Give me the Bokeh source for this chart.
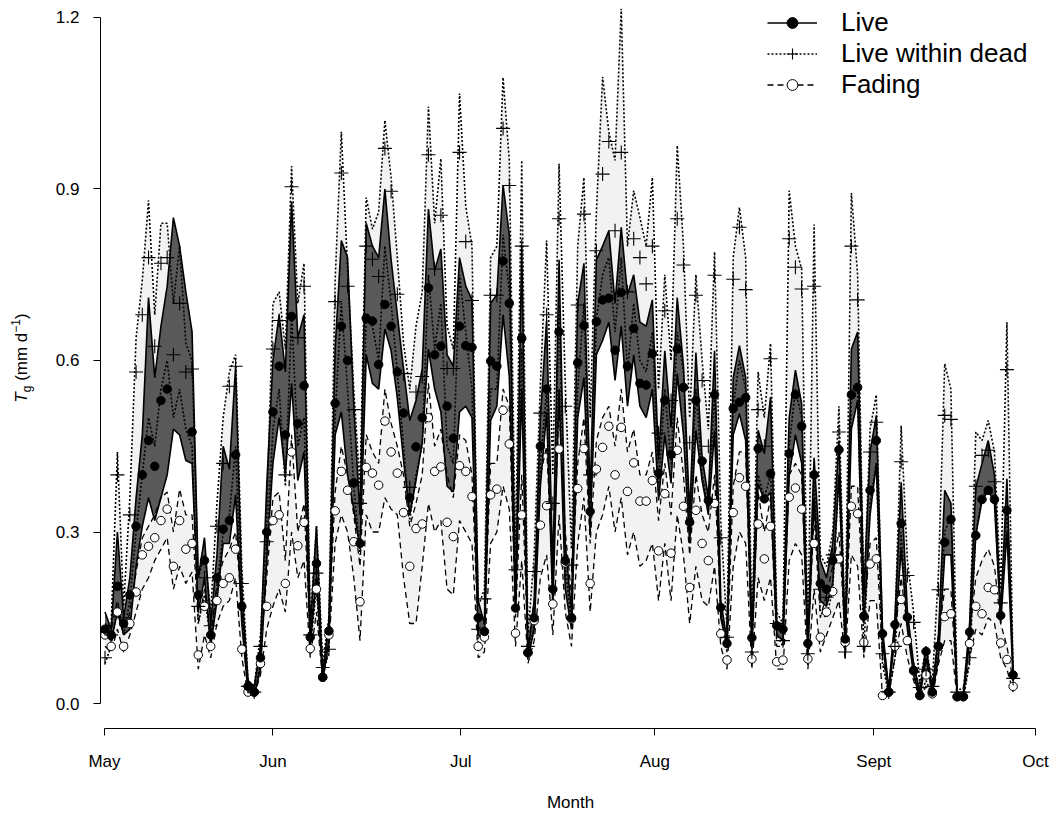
import numpy as np
from bokeh.plotting import figure
from bokeh.layouts import row
from bokeh.models import (ColumnDataSource, FixedTicker, NumeralTickFormatter,
                          Legend, LegendItem, Range1d, Div)
from bokeh.embed import file_html
from bokeh.resources import INLINE

NA = float("nan")

# observation index (one per sampling day)
obs = list(range(147))

# Live: mean and band
live = [.13, .12, .205, .14, .19, .31, .40, .46, .415, .53,
        .55, NA, NA, NA, .475, .19, .25, .12, .22, .305,
        .32, .435, .17, .03, .02, .08, .30, .51, .59, .47,
        .677, .49, .556, .116, .245, .046, .127, .525, .66, .60,
        .386, .28, .674, .669, .593, .698, .66, .58, .508, .36,
        .449, .50, .727, .61, .625, .52, .464, .66, .626, .623,
        .15, .126, .599, .59, .774, .70, .167, .639, .089, .15,
        .45, .55, .20, .65, .25, .15, .596, .661, .336, .668,
        .706, .709, .618, .719, .59, .656, .56, .557, .612, .403,
        .53, .436, .62, .553, .317, .53, .424, .355, .54, .168,
        .105, .516, .527, .535, .115, .446, .358, .402, .136, .13,
        .437, .54, .485, .105, .40, .21, .20, .25, .444, .113,
        .54, .553, .153, .373, .46, .122, .02, .138, .315, .151,
        .058, .014, .091, .02, .10, .282, .322, .012, .012, .125,
        .294, .357, .373, .357, .154, .338, .05]
live_hi = [.16, .13, .30, .15, .22, .36, .47, .71, .57, .66,
           .73, .85, .80, .72, .65, .22, .29, .14, .26, .45,
           .41, .59, .20, .04, .03, .10, .38, .60, .68, .58,
           .878, .64, .68, .13, .31, .05, .145, .62, .81, .78,
           .52, .33, .84, .80, .78, .90, .776, .68, .585, .495,
           .53, .585, .865, .757, .795, .61, .59, .78, .73, .706,
           .18, .14, .70, .715, .907, .82, .17, .80, .09, .18,
           .50, .67, .23, .776, .28, .16, .70, .77, .36, .776,
           .80, .827, .70, .833, .715, .75, .667, .66, .706, .425,
           .617, .483, .71, .59, .33, .614, .43, .36, .617, .18,
           .11, .57, .626, .57, .12, .478, .437, .536, .14, .14,
           .50, .583, .524, .11, .43, .25, .22, .28, .46, .12,
           .62, .65, .19, .44, .503, .13, .025, .15, .387, .16,
           .07, .02, .10, .025, .12, .373, .35, .015, .015, .14,
           .378, .42, .46, .40, .16, .393, .06]
live_lo = [.12, .11, .16, .12, .13, .24, .31, .36, .32, .36,
           .40, .48, .47, .425, .42, .16, .22, .10, .18, .28,
           .28, .365, .14, .02, .015, .06, .25, .42, .50, .40,
           .56, .39, .44, .10, .22, .04, .11, .47, .51, .40,
           .34, .27, .61, .56, .55, .655, .617, .534, .425, .33,
           .39, .457, .62, .55, .51, .38, .37, .51, .52, .50,
           .12, .11, .495, .52, .68, .572, .16, .55, .08, .13,
           .38, .51, .17, .55, .20, .13, .50, .57, .30, .61,
           .635, .667, .565, .66, .52, .61, .52, .50, .55, .355,
           .47, .385, .577, .47, .28, .478, .39, .33, .478, .15,
           .10, .47, .507, .46, .10, .385, .355, .37, .12, .11,
           .40, .47, .42, .09, .36, .18, .17, .21, .40, .10,
           .48, .53, .14, .33, .42, .11, .015, .12, .27, .13,
           .05, .01, .08, .015, .08, .26, .26, .01, .01, .11,
           .294, .355, .373, .35, .14, .30, .04]

# Live within dead: mean and band
lwd = [.08, .12, .40, .15, .33, .58, .68, .78, .625, .77,
       .78, .61, .70, .58, .585, .17, .22, .136, .31, .42,
       .555, .59, .21, .03, .02, .10, .283, .62, .67, .40,
       .904, .64, .73, .12, .228, .063, .095, .703, .928, .73,
       .514, .35, .80, .777, .747, .971, .896, .716, .577, .378,
       .545, .572, .96, .76, .854, .586, .586, .964, .808, .705,
       .13, .183, .714, .714, 1.006, .906, .234, .80, .10, .231,
       .508, .68, .35, .848, .52, .242, .697, .856, .40, .792,
       .926, .983, .827, .964, .72, .813, .78, .734, .80, .473,
       .687, .53, .848, .767, .456, .714, .565, .45, .749, .29,
       .116, .742, .833, .724, .09, .514, .45, .603, .14, .11,
       .813, .763, .725, .087, .73, .20, .186, .26, .475, .09,
       .80, .706, .10, .44, .492, .087, .02, .10, .423, .224,
       .142, .028, .06, .03, .199, .504, .497, .02, .02, .08,
       .38, .434, .443, .388, .176, .584, .044]
lwd_hi = [.13, .14, .44, .17, .36, .64, .74, .88, .68, .84,
          .84, .70, .80, .63, .60, .22, .26, .16, .35, .50,
          .58, .61, .24, .04, .03, .12, .33, .70, .72, .62,
          .94, .70, .77, .14, .31, .07, .15, .74, 1.00, .76,
          .55, .38, .885, .83, .86, 1.02, .92, .78, .63, .55,
          .66, .72, 1.044, .84, .953, .66, .62, 1.067, .87, .80,
          .17, .20, .78, .80, 1.095, .95, .26, .95, .12, .26,
          .56, .81, .40, .944, .56, .27, .80, .92, .50, .86,
          1.096, 1.00, .95, 1.215, .80, .897, .85, .80, .92, .55,
          .75, .60, .976, .80, .50, .75, .60, .48, .79, .32,
          .13, .78, .868, .78, .13, .58, .50, .63, .16, .14,
          .897, .80, .76, .12, .838, .26, .24, .30, .52, .12,
          .893, .75, .19, .48, .54, .12, .025, .14, .486, .25,
          .16, .035, .10, .035, .23, .594, .55, .025, .025, .13,
          .475, .46, .495, .44, .20, .667, .05]
lwd_lo = [.07, .10, .17, .12, .18, .30, .40, .50, .45, .55,
          .60, .50, .55, .48, .45, .14, .19, .11, .20, .30,
          .33, .45, .15, .02, .015, .07, .26, .48, .55, .38,
          .68, .45, .50, .10, .20, .05, .09, .50, .70, .55,
          .38, .26, .68, .66, .60, .80, .70, .58, .45, .32,
          .40, .45, .75, .62, .70, .45, .42, .75, .65, .55,
          .10, .12, .55, .55, .82, .72, .16, .62, .08, .14,
          .42, .55, .18, .70, .24, .14, .55, .70, .30, .67,
          .75, .78, .65, .78, .58, .70, .60, .58, .65, .38,
          .55, .42, .65, .58, .30, .55, .40, .34, .55, .16,
          .10, .52, .60, .55, .08, .40, .36, .40, .12, .10,
          .45, .55, .50, .08, .40, .16, .15, .20, .40, .08,
          .55, .55, .09, .35, .42, .07, .015, .08, .30, .14,
          .06, .012, .04, .015, .10, .30, .33, .01, .01, .07,
          .30, .36, .38, .36, .15, .34, .04]

# Fading: mean and band
fad = [.12, .10, .16, .10, .14, .195, .26, .275, .29, .32,
       .34, .24, .32, .27, .28, .085, .17, .10, .18, .21,
       .22, .27, .095, .02, .02, .07, .17, .32, .33, .21,
       .44, .276, .317, .096, .20, .046, .12, .337, .406, .373,
       .283, .178, .413, .403, .382, .494, .44, .403, .334, .24,
       .306, .314, .50, .406, .414, .317, .292, .416, .406, .362,
       .10, .116, .365, .375, .513, .454, .123, .33, .089, .145,
       .312, .346, .174, .445, .246, .148, .376, .446, .21, .41,
       .448, .485, .40, .483, .371, .421, .354, .354, .39, .267,
       .367, .263, .443, .345, .203, .338, .28, .25, .35, .122,
       .076, .334, .395, .38, .078, .314, .253, .31, .073, .076,
       .361, .377, .34, .078, .28, .116, .16, .196, .253, .107,
       .345, .332, .107, .244, .253, .014, .02, .10, .182, .11,
       .057, .014, .05, .017, .10, .152, .157, .012, .012, .105,
       .17, .157, .203, .199, .106, .077, .03]
fad_hi = [.14, .13, .18, .12, .16, .23, .29, .31, .33, .36,
          .37, .30, .375, .33, .33, .14, .20, .12, .21, .25,
          .27, .30, .17, .03, .03, .09, .22, .36, .37, .25,
          .47, .30, .35, .12, .24, .05, .14, .37, .45, .40,
          .33, .24, .47, .44, .42, .55, .49, .45, .40, .31,
          .35, .40, .56, .45, .48, .40, .36, .47, .46, .40,
          .13, .14, .42, .42, .55, .52, .15, .40, .10, .18,
          .40, .45, .22, .52, .30, .19, .42, .50, .28, .46,
          .50, .52, .45, .55, .44, .48, .40, .40, .44, .32,
          .42, .33, .50, .40, .26, .40, .33, .30, .40, .16,
          .09, .38, .44, .44, .10, .37, .30, .36, .10, .10,
          .40, .42, .40, .10, .33, .15, .19, .24, .30, .12,
          .38, .38, .15, .28, .29, .08, .025, .12, .22, .13,
          .07, .02, .08, .025, .12, .20, .20, .015, .015, .12,
          .22, .25, .27, .24, .14, .10, .04]
fad_lo = [.10, .09, .13, .09, .12, .16, .20, .22, .25, .27,
          .29, .20, .24, .21, .23, .06, .12, .08, .14, .17,
          .18, .22, .08, .015, .015, .05, .13, .17, .20, .16,
          .30, .22, .25, .08, .16, .04, .10, .28, .33, .30,
          .22, .11, .33, .30, .30, .36, .34, .33, .22, .14,
          .14, .24, .35, .30, .32, .20, .19, .32, .30, .28,
          .08, .09, .28, .30, .38, .34, .10, .25, .07, .11,
          .22, .26, .12, .33, .16, .10, .28, .36, .16, .30,
          .33, .38, .30, .36, .26, .30, .24, .25, .28, .18,
          .28, .18, .33, .26, .14, .24, .18, .17, .24, .10,
          .06, .24, .30, .28, .06, .22, .18, .22, .06, .06,
          .25, .28, .26, .06, .20, .09, .12, .15, .18, .08,
          .26, .24, .08, .18, .18, .01, .015, .08, .14, .08,
          .04, .01, .03, .01, .07, .11, .11, .01, .01, .08,
          .13, .12, .15, .14, .08, .06, .02]

# month tick positions (in observation-index units) and labels
month_pos = [-0.08, 27.0, 57.2, 88.4, 123.6, 149.6]
month_lab = ["May", "Jun", "Jul", "Aug", "Sept", "Oct"]
y_ticks = [0.0, 0.3, 0.6, 0.9, 1.2]

cols = dict(live=live, live_hi=live_hi, live_lo=live_lo,
            lwd=lwd, lwd_hi=lwd_hi, lwd_lo=lwd_lo,
            fad=fad, fad_hi=fad_hi, fad_lo=fad_lo)
data = {k: np.array(v, dtype=float) for k, v in cols.items()}
data["obs"] = np.array(obs, dtype=float)
src = ColumnDataSource(data)

FONT = "Liberation Sans"
p = figure(width=1011, height=815, output_backend="svg", toolbar_location=None,
           x_range=Range1d(-0.72, 150.4), y_range=Range1d(-0.0437, 1.2297),
           min_border_left=60, min_border_right=11, min_border_top=0,
           min_border_bottom=87, margin=0)
p.outline_line_color = None
p.xgrid.visible = False
p.ygrid.visible = False
p.background_fill_color = "white"

# bands
p.varea(x="obs", y1="lwd_lo", y2="lwd_hi", source=src, fill_color="#f2f2f2")
p.varea(x="obs", y1="fad_lo", y2="fad_hi", source=src, fill_color="#f2f2f2")
p.varea(x="obs", y1="live_lo", y2="live_hi", source=src, fill_color="#595959")

# band edges
f_hi = p.line("obs", "fad_hi", source=src, line_color="black", line_width=1.3, line_dash="6 4")
p.line("obs", "fad_lo", source=src, line_color="black", line_width=1.3, line_dash="6 4")
w_hi = p.line("obs", "lwd_hi", source=src, line_color="black", line_width=1.6, line_dash="2 2")
p.line("obs", "lwd_lo", source=src, line_color="black", line_width=1.6, line_dash="2 2")
l_hi = p.line("obs", "live_hi", source=src, line_color="black", line_width=1.6)
p.line("obs", "live_lo", source=src, line_color="black", line_width=1.6)

# means
f_pts = p.scatter("obs", "fad", source=src, marker="circle", size=8.5,
                  fill_color="white", line_color="black", line_width=1)
w_pts = p.scatter("obs", "lwd", source=src, marker="cross", size=14,
                  line_color="black", line_width=1.1)
l_pts = p.scatter("obs", "live", source=src, marker="circle", size=8.5,
                  fill_color="black", line_color="black")

# axes
xa = p.xaxis[0]
xa.ticker = FixedTicker(ticks=month_pos)
xa.major_label_overrides = {pos: lab for pos, lab in zip(month_pos, month_lab)}
xa.bounds = (month_pos[0], month_pos[-1])
xa.minor_tick_line_color = None
xa.major_tick_in = 0
xa.major_tick_out = 7
xa.axis_line_color = "black"
xa.major_tick_line_color = "black"
xa.major_label_text_font = FONT
xa.major_label_text_font_size = "17px"
xa.major_label_text_color = "black"
xa.major_label_standoff = 16
xa.axis_label = "Month"
xa.axis_label_text_font = FONT
xa.axis_label_text_font_size = "17px"
xa.axis_label_text_font_style = "normal"
xa.axis_label_text_color = "black"
xa.axis_label_standoff = 19

ya = p.yaxis[0]
ya.ticker = FixedTicker(ticks=y_ticks)
ya.formatter = NumeralTickFormatter(format="0.0")
ya.bounds = (0, 1.2)
ya.minor_tick_line_color = None
ya.major_tick_in = 0
ya.major_tick_out = 7
ya.axis_line_color = "black"
ya.major_tick_line_color = "black"
ya.major_label_text_font = FONT
ya.major_label_text_font_size = "17px"
ya.major_label_text_color = "black"
ya.major_label_standoff = 14

legend = Legend(items=[LegendItem(label="Live", renderers=[l_hi, l_pts]),
                       LegendItem(label="Live within dead", renderers=[w_hi, w_pts]),
                       LegendItem(label="Fading", renderers=[f_hi, f_pts])],
                location=(667, 628), border_line_color=None, background_fill_alpha=0,
                label_text_font=FONT, label_text_font_size="26px", label_text_color="black",
                glyph_width=50, glyph_height=27, label_height=27, spacing=0,
                padding=0, margin=0, label_standoff=24)
p.add_layout(legend)

# y-axis title: italic T with subscript g, then units
ylab_html = ('<div style="position:relative;width:40px;height:815px;">'
             '<span style="position:absolute;left:22px;top:358px;'
             'transform:translate(-50%,-50%) rotate(-90deg);white-space:nowrap;'
             "font-family:'Liberation Sans',Arial,sans-serif;font-size:17px;color:black;\">"
             '<i>T</i><sub style="font-size:12px;">g</sub> (mm d<sup style="font-size:12px;">&minus;1</sup>)'
             '</span></div>')
ylab = Div(text=ylab_html, width=40, height=815, margin=0)

layout = row(ylab, p, spacing=0)
open("out.html", "w").write(file_html(layout, INLINE))
